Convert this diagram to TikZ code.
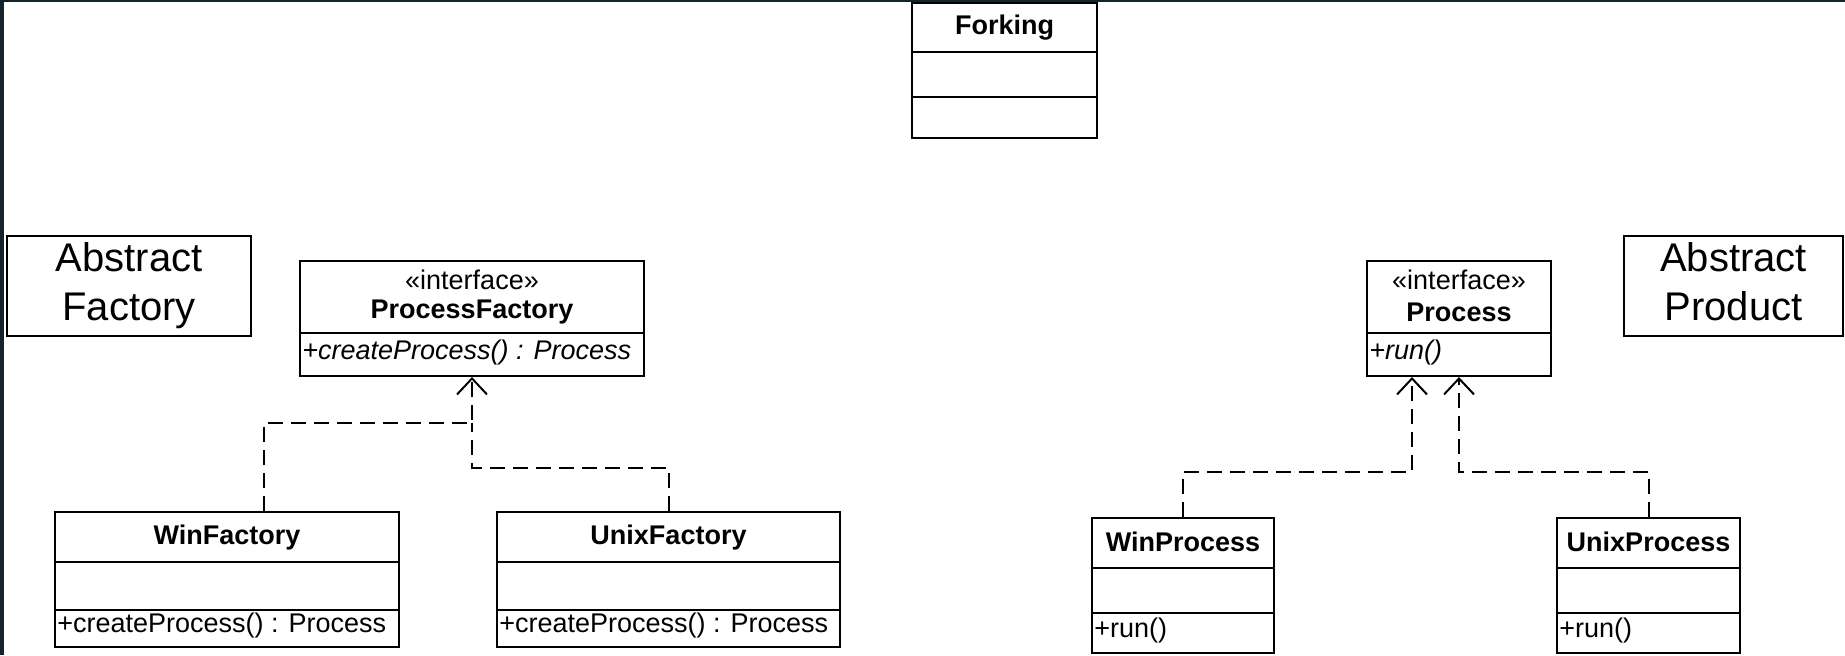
\documentclass[tikz,border=0pt]{standalone}
\usepackage{fontspec}
\setmainfont{Liberation Sans}
\usetikzlibrary{arrows.meta}

\definecolor{framedark}{HTML}{15232D}

\tikzset{
  classbox/.style={draw, line width=1pt, inner sep=0pt},
  classname/.style={font=\fontsize{13.5}{16}\selectfont\bfseries},
  stereo/.style={font=\fontsize{13.5}{16}\selectfont},
  member/.style={anchor=west, inner sep=0pt, font=\fontsize{13.5}{16}\selectfont},
  patternbox/.style={draw, line width=1pt, align=center, font=\fontsize{20}{24.5}\selectfont},
  compart/.style={line width=1pt},
  realizes/.style={line width=1pt, dash pattern=on 7.5pt off 4pt, -{Straight Barb[length=8pt,width=15pt]}},
}

\begin{document}
\begin{tikzpicture}[x=0.5pt,y=-0.5pt]
   \useasboundingbox (0,0) rectangle (1845,655);
   \fill[white] (0,0) rectangle (1845,655);
   \fill[framedark] (0,0) rectangle (1845,2);
   \fill[framedark] (0,0) rectangle (4,655);

   % Forking
   \node[classbox, minimum width=92.5pt, minimum height=67.5pt] (fk) at (1004.5,70.5) {};
   \node[classname] (fkname) at (1004.5,28) {Forking};
   \draw[compart] (fk.west |- 0,52) -- (fk.east |- 0,52);
   \draw[compart] (fk.west |- 0,97) -- (fk.east |- 0,97);

   % pattern labels
   \node[patternbox, minimum width=122pt, minimum height=49pt] (af) at (129,286) {Abstract\\Factory};
   \node[patternbox, minimum width=109.5pt, minimum height=49pt] (ap) at (1733.5,286) {Abstract\\Product\vphantom{y}};

   % ProcessFactory
   \node[classbox, minimum width=172pt, minimum height=57.5pt] (pf) at (472,318.5) {};
   \node[stereo] (pfstereo) at (472,280) {«interface»};
   \node[classname] (pfname) at (472,312) {ProcessFactory};
   \draw[compart] (pf.west |- 0,333) -- (pf.east |- 0,333);
   \node[member] (pfop) at (302,352) {\itshape +createProcess() : Process};

   % Process
   \node[classbox, minimum width=92pt, minimum height=57.5pt] (pr) at (1459,318.5) {};
   \node[stereo] (prstereo) at (1459,280) {«interface»};
   \node[classname] (prname) at (1459,312) {Process};
   \draw[compart] (pr.west |- 0,333) -- (pr.east |- 0,333);
   \node[member] (prop) at (1369,352) {\itshape +run()};

   % WinFactory
   \node[classbox, minimum width=172pt, minimum height=67.5pt] (wf) at (227,579.5) {};
   \node[classname] (wfname) at (227,538) {WinFactory};
   \draw[compart] (wf.west |- 0,562) -- (wf.east |- 0,562);
   \draw[compart] (wf.west |- 0,610) -- (wf.east |- 0,610);
   \node[member] (wfop) at (57,625) {+createProcess() : Process};

   % UnixFactory
   \node[classbox, minimum width=171.5pt, minimum height=67.5pt] (uf) at (668.5,579.5) {};
   \node[classname] (ufname) at (668.5,538) {UnixFactory};
   \draw[compart] (uf.west |- 0,562) -- (uf.east |- 0,562);
   \draw[compart] (uf.west |- 0,610) -- (uf.east |- 0,610);
   \node[member] (ufop) at (499,625) {+createProcess() : Process};

   % WinProcess
   \node[classbox, minimum width=91pt, minimum height=67.5pt] (wp) at (1183,585.5) {};
   \node[classname] (wpname) at (1183,542) {WinProcess};
   \draw[compart] (wp.west |- 0,568) -- (wp.east |- 0,568);
   \draw[compart] (wp.west |- 0,613) -- (wp.east |- 0,613);
   \node[member] (wpop) at (1094,630) {+run()};

   % UnixProcess
   \node[classbox, minimum width=91.5pt, minimum height=67.5pt] (up) at (1648.5,585.5) {};
   \node[classname] (upname) at (1648.5,542) {UnixProcess};
   \draw[compart] (up.west |- 0,568) -- (up.east |- 0,568);
   \draw[compart] (up.west |- 0,613) -- (up.east |- 0,613);
   \node[member] (upop) at (1559,630) {+run()};

   % realizations
   \coordinate (pfjoin) at (472,423);
   \coordinate (ufturn) at (472,468);
   \draw[realizes] ([xshift=18.5pt]wf.north) |- (pfjoin) -- (pf.south);
   \draw[realizes, -] (uf.north) |- (ufturn) -- (pfjoin);

   \coordinate (prleft) at ([xshift=-23.5pt]pr.south);
   \draw[realizes] (wp.north) |- (prleft |- 0,472) -- (prleft);
   \draw[realizes] (up.north) |- (pr.south |- 0,472) -- (pr.south);
\end{tikzpicture}
\end{document}
